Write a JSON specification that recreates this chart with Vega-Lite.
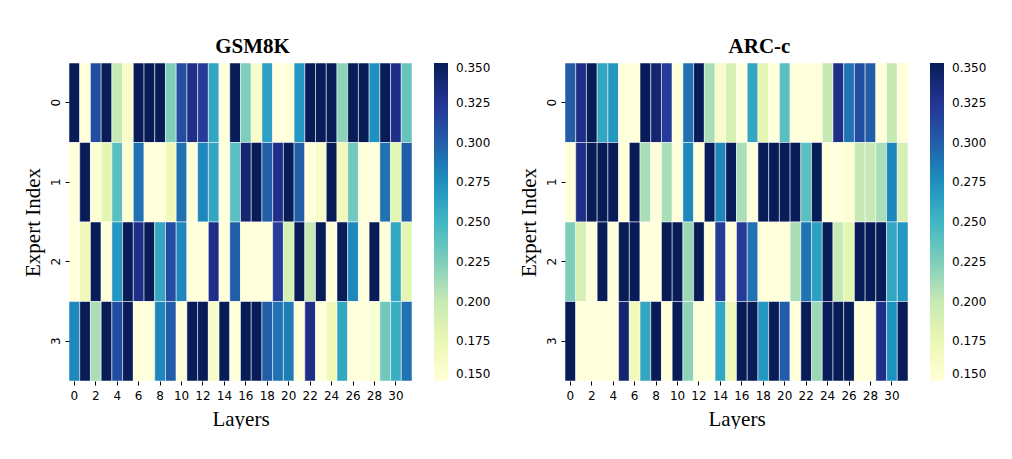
{
"$schema":"https://vega.github.io/schema/vega-lite/v6.json",
"background":"white",
"padding":{"left":22,"top":35,"right":0,"bottom":0},
"config":{"view":{"stroke":null},
"axis":{"domain":false,"labelFont":"DejaVu Sans","labelFontSize":12,"labelColor":"#000","tickColor":"#000","tickSize":4,"titleFont":"Liberation Serif","titleFontSize":21,"titleFontWeight":"normal","titleColor":"#000"},
"legend":{"labelFont":"DejaVu Sans","labelFontSize":12,"labelColor":"#000"},
"title":{"font":"Liberation Serif","fontSize":21,"fontWeight":"bold","color":"#000","offset":6}},
"datasets":{
"gsm":[
{"l":0,"e":0,"v":0.35},{"l":1,"e":0,"v":0.15},{"l":2,"e":0,"v":0.31},{"l":3,"e":0,"v":0.35},{"l":4,"e":0,"v":0.2},{"l":5,"e":0,"v":0.16},{"l":6,"e":0,"v":0.35},{"l":7,"e":0,"v":0.35},{"l":8,"e":0,"v":0.35},{"l":9,"e":0,"v":0.225},{"l":10,"e":0,"v":0.31},{"l":11,"e":0,"v":0.33},{"l":12,"e":0,"v":0.32},{"l":13,"e":0,"v":0.26},{"l":14,"e":0,"v":0.15},{"l":15,"e":0,"v":0.35},{"l":16,"e":0,"v":0.225},{"l":17,"e":0,"v":0.16},{"l":18,"e":0,"v":0.265},{"l":19,"e":0,"v":0.15},{"l":20,"e":0,"v":0.15},{"l":21,"e":0,"v":0.27},{"l":22,"e":0,"v":0.35},{"l":23,"e":0,"v":0.35},{"l":24,"e":0,"v":0.35},{"l":25,"e":0,"v":0.22},{"l":26,"e":0,"v":0.35},{"l":27,"e":0,"v":0.35},{"l":28,"e":0,"v":0.275},{"l":29,"e":0,"v":0.35},{"l":30,"e":0,"v":0.33},{"l":31,"e":0,"v":0.235},
{"l":0,"e":1,"v":0.15},{"l":1,"e":1,"v":0.35},{"l":2,"e":1,"v":0.155},{"l":3,"e":1,"v":0.18},{"l":4,"e":1,"v":0.24},{"l":5,"e":1,"v":0.155},{"l":6,"e":1,"v":0.29},{"l":7,"e":1,"v":0.15},{"l":8,"e":1,"v":0.15},{"l":9,"e":1,"v":0.17},{"l":10,"e":1,"v":0.29},{"l":11,"e":1,"v":0.15},{"l":12,"e":1,"v":0.28},{"l":13,"e":1,"v":0.26},{"l":14,"e":1,"v":0.15},{"l":15,"e":1,"v":0.24},{"l":16,"e":1,"v":0.34},{"l":17,"e":1,"v":0.35},{"l":18,"e":1,"v":0.3},{"l":19,"e":1,"v":0.33},{"l":20,"e":1,"v":0.35},{"l":21,"e":1,"v":0.3},{"l":22,"e":1,"v":0.15},{"l":23,"e":1,"v":0.16},{"l":24,"e":1,"v":0.35},{"l":25,"e":1,"v":0.17},{"l":26,"e":1,"v":0.23},{"l":27,"e":1,"v":0.15},{"l":28,"e":1,"v":0.15},{"l":29,"e":1,"v":0.29},{"l":30,"e":1,"v":0.18},{"l":31,"e":1,"v":0.3},
{"l":0,"e":2,"v":0.15},{"l":1,"e":2,"v":0.17},{"l":2,"e":2,"v":0.35},{"l":3,"e":2,"v":0.15},{"l":4,"e":2,"v":0.27},{"l":5,"e":2,"v":0.35},{"l":6,"e":2,"v":0.33},{"l":7,"e":2,"v":0.35},{"l":8,"e":2,"v":0.26},{"l":9,"e":2,"v":0.31},{"l":10,"e":2,"v":0.28},{"l":11,"e":2,"v":0.15},{"l":12,"e":2,"v":0.15},{"l":13,"e":2,"v":0.33},{"l":14,"e":2,"v":0.15},{"l":15,"e":2,"v":0.3},{"l":16,"e":2,"v":0.15},{"l":17,"e":2,"v":0.15},{"l":18,"e":2,"v":0.15},{"l":19,"e":2,"v":0.32},{"l":20,"e":2,"v":0.19},{"l":21,"e":2,"v":0.35},{"l":22,"e":2,"v":0.2},{"l":23,"e":2,"v":0.35},{"l":24,"e":2,"v":0.15},{"l":25,"e":2,"v":0.35},{"l":26,"e":2,"v":0.28},{"l":27,"e":2,"v":0.15},{"l":28,"e":2,"v":0.35},{"l":29,"e":2,"v":0.15},{"l":30,"e":2,"v":0.26},{"l":31,"e":2,"v":0.18},
{"l":0,"e":3,"v":0.28},{"l":1,"e":3,"v":0.35},{"l":2,"e":3,"v":0.21},{"l":3,"e":3,"v":0.35},{"l":4,"e":3,"v":0.31},{"l":5,"e":3,"v":0.35},{"l":6,"e":3,"v":0.15},{"l":7,"e":3,"v":0.15},{"l":8,"e":3,"v":0.28},{"l":9,"e":3,"v":0.3},{"l":10,"e":3,"v":0.15},{"l":11,"e":3,"v":0.35},{"l":12,"e":3,"v":0.35},{"l":13,"e":3,"v":0.16},{"l":14,"e":3,"v":0.35},{"l":15,"e":3,"v":0.15},{"l":16,"e":3,"v":0.35},{"l":17,"e":3,"v":0.35},{"l":18,"e":3,"v":0.3},{"l":19,"e":3,"v":0.29},{"l":20,"e":3,"v":0.285},{"l":21,"e":3,"v":0.15},{"l":22,"e":3,"v":0.33},{"l":23,"e":3,"v":0.15},{"l":24,"e":3,"v":0.17},{"l":25,"e":3,"v":0.26},{"l":26,"e":3,"v":0.15},{"l":27,"e":3,"v":0.15},{"l":28,"e":3,"v":0.155},{"l":29,"e":3,"v":0.23},{"l":30,"e":3,"v":0.255},{"l":31,"e":3,"v":0.29}
],
"arc":[
{"l":0,"e":0,"v":0.3},{"l":1,"e":0,"v":0.33},{"l":2,"e":0,"v":0.35},{"l":3,"e":0,"v":0.26},{"l":4,"e":0,"v":0.27},{"l":5,"e":0,"v":0.15},{"l":6,"e":0,"v":0.15},{"l":7,"e":0,"v":0.35},{"l":8,"e":0,"v":0.34},{"l":9,"e":0,"v":0.32},{"l":10,"e":0,"v":0.15},{"l":11,"e":0,"v":0.29},{"l":12,"e":0,"v":0.35},{"l":13,"e":0,"v":0.21},{"l":14,"e":0,"v":0.16},{"l":15,"e":0,"v":0.19},{"l":16,"e":0,"v":0.15},{"l":17,"e":0,"v":0.26},{"l":18,"e":0,"v":0.18},{"l":19,"e":0,"v":0.15},{"l":20,"e":0,"v":0.24},{"l":21,"e":0,"v":0.15},{"l":22,"e":0,"v":0.15},{"l":23,"e":0,"v":0.15},{"l":24,"e":0,"v":0.2},{"l":25,"e":0,"v":0.33},{"l":26,"e":0,"v":0.29},{"l":27,"e":0,"v":0.31},{"l":28,"e":0,"v":0.3},{"l":29,"e":0,"v":0.15},{"l":30,"e":0,"v":0.2},{"l":31,"e":0,"v":0.15},
{"l":0,"e":1,"v":0.15},{"l":1,"e":1,"v":0.33},{"l":2,"e":1,"v":0.35},{"l":3,"e":1,"v":0.35},{"l":4,"e":1,"v":0.35},{"l":5,"e":1,"v":0.15},{"l":6,"e":1,"v":0.35},{"l":7,"e":1,"v":0.21},{"l":8,"e":1,"v":0.15},{"l":9,"e":1,"v":0.21},{"l":10,"e":1,"v":0.15},{"l":11,"e":1,"v":0.28},{"l":12,"e":1,"v":0.15},{"l":13,"e":1,"v":0.35},{"l":14,"e":1,"v":0.28},{"l":15,"e":1,"v":0.35},{"l":16,"e":1,"v":0.21},{"l":17,"e":1,"v":0.15},{"l":18,"e":1,"v":0.35},{"l":19,"e":1,"v":0.35},{"l":20,"e":1,"v":0.35},{"l":21,"e":1,"v":0.35},{"l":22,"e":1,"v":0.24},{"l":23,"e":1,"v":0.35},{"l":24,"e":1,"v":0.15},{"l":25,"e":1,"v":0.15},{"l":26,"e":1,"v":0.155},{"l":27,"e":1,"v":0.2},{"l":28,"e":1,"v":0.2},{"l":29,"e":1,"v":0.21},{"l":30,"e":1,"v":0.28},{"l":31,"e":1,"v":0.19},
{"l":0,"e":2,"v":0.225},{"l":1,"e":2,"v":0.19},{"l":2,"e":2,"v":0.15},{"l":3,"e":2,"v":0.35},{"l":4,"e":2,"v":0.15},{"l":5,"e":2,"v":0.35},{"l":6,"e":2,"v":0.35},{"l":7,"e":2,"v":0.15},{"l":8,"e":2,"v":0.15},{"l":9,"e":2,"v":0.35},{"l":10,"e":2,"v":0.35},{"l":11,"e":2,"v":0.215},{"l":12,"e":2,"v":0.35},{"l":13,"e":2,"v":0.15},{"l":14,"e":2,"v":0.32},{"l":15,"e":2,"v":0.15},{"l":16,"e":2,"v":0.32},{"l":17,"e":2,"v":0.29},{"l":18,"e":2,"v":0.15},{"l":19,"e":2,"v":0.15},{"l":20,"e":2,"v":0.15},{"l":21,"e":2,"v":0.21},{"l":22,"e":2,"v":0.29},{"l":23,"e":2,"v":0.265},{"l":24,"e":2,"v":0.35},{"l":25,"e":2,"v":0.2},{"l":26,"e":2,"v":0.18},{"l":27,"e":2,"v":0.35},{"l":28,"e":2,"v":0.35},{"l":29,"e":2,"v":0.35},{"l":30,"e":2,"v":0.26},{"l":31,"e":2,"v":0.27},
{"l":0,"e":3,"v":0.35},{"l":1,"e":3,"v":0.15},{"l":2,"e":3,"v":0.15},{"l":3,"e":3,"v":0.15},{"l":4,"e":3,"v":0.15},{"l":5,"e":3,"v":0.34},{"l":6,"e":3,"v":0.17},{"l":7,"e":3,"v":0.26},{"l":8,"e":3,"v":0.35},{"l":9,"e":3,"v":0.15},{"l":10,"e":3,"v":0.35},{"l":11,"e":3,"v":0.22},{"l":12,"e":3,"v":0.15},{"l":13,"e":3,"v":0.15},{"l":14,"e":3,"v":0.26},{"l":15,"e":3,"v":0.17},{"l":16,"e":3,"v":0.35},{"l":17,"e":3,"v":0.35},{"l":18,"e":3,"v":0.27},{"l":19,"e":3,"v":0.35},{"l":20,"e":3,"v":0.3},{"l":21,"e":3,"v":0.15},{"l":22,"e":3,"v":0.35},{"l":23,"e":3,"v":0.215},{"l":24,"e":3,"v":0.35},{"l":25,"e":3,"v":0.35},{"l":26,"e":3,"v":0.35},{"l":27,"e":3,"v":0.15},{"l":28,"e":3,"v":0.15},{"l":29,"e":3,"v":0.33},{"l":30,"e":3,"v":0.275},{"l":31,"e":3,"v":0.35}
]},
"resolve":{"scale":{"color":"independent"},"legend":{"color":"independent"}},
"spacing":27,
"hconcat":[
{"data":{"name":"gsm"},"title":{"text":"GSM8K","frame":"bounds","anchor":"middle","dx":-4},
"width":343,"height":318,
"mark":{"type":"rect","stroke":"white","strokeWidth":0.5},
"encoding":{
"x":{"field":"l","type":"ordinal","sort":"ascending","scale":{"paddingInner":0,"paddingOuter":0},"axis":{"title":"Layers","labelAngle":0,"values":[0,2,4,6,8,10,12,14,16,18,20,22,24,26,28,30],"labelPadding":5,"titlePadding":7}},
"y":{"field":"e","type":"ordinal","sort":"ascending","scale":{"paddingInner":0,"paddingOuter":0},"axis":{"title":"Expert Index","labelAngle":-90,"labelPadding":3,"titlePadding":6}},
"color":{"field":"v","type":"quantitative","scale":{"domain":[0.15,0.175,0.2,0.225,0.25,0.275,0.3,0.325,0.35],"range":["#ffffd9","#edf8b1","#c7e9b4","#7fcdbb","#41b6c4","#1d91c0","#225ea8","#253494","#081d58"],"interpolate":"rgb","clamp":true},
"legend":{"title":null,"gradientLength":318,"gradientThickness":14,"gradientStrokeWidth":0,"offset":22,"values":[0.15,0.175,0.2,0.225,0.25,0.275,0.3,0.325,0.35],"format":".3f","labelOffset":8}}}},
{"data":{"name":"arc"},"title":{"text":"ARC-c","frame":"bounds","anchor":"middle","dx":7},
"width":343,"height":318,
"mark":{"type":"rect","stroke":"white","strokeWidth":0.5},
"encoding":{
"x":{"field":"l","type":"ordinal","sort":"ascending","scale":{"paddingInner":0,"paddingOuter":0},"axis":{"title":"Layers","labelAngle":0,"values":[0,2,4,6,8,10,12,14,16,18,20,22,24,26,28,30],"labelPadding":5,"titlePadding":7}},
"y":{"field":"e","type":"ordinal","sort":"ascending","scale":{"paddingInner":0,"paddingOuter":0},"axis":{"title":"Expert Index","labelAngle":-90,"labelPadding":3,"titlePadding":6}},
"color":{"field":"v","type":"quantitative","scale":{"domain":[0.15,0.175,0.2,0.225,0.25,0.275,0.3,0.325,0.35],"range":["#ffffd9","#edf8b1","#c7e9b4","#7fcdbb","#41b6c4","#1d91c0","#225ea8","#253494","#081d58"],"interpolate":"rgb","clamp":true},
"legend":{"title":null,"gradientLength":318,"gradientThickness":14,"gradientStrokeWidth":0,"offset":22,"values":[0.15,0.175,0.2,0.225,0.25,0.275,0.3,0.325,0.35],"format":".3f","labelOffset":8}}}}
]}
